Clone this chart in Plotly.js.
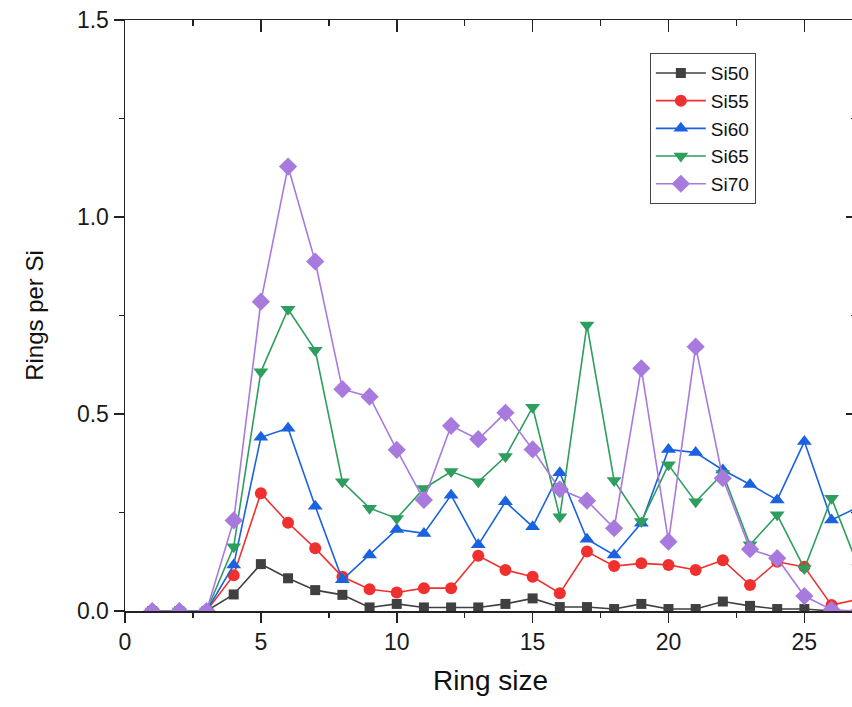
<!DOCTYPE html>
<html>
<head>
<meta charset="utf-8">
<script src="https://cdn.plot.ly/plotly-3.0.1.min.js"></script>
<style>html,body{margin:0;padding:0;overflow:hidden;background:#fff}</style>
</head>
<body>
<div id="chart" style="width:880px;height:707px"></div>
<script>
const ringSize = [1,2,3,4,5,6,7,8,9,10,11,12,13,14,15,16,17,18,19,20,21,22,23,24,25,26,27];
const si50 = [0,0,0,0.042,0.119,0.083,0.053,0.041,0.009,0.018,0.009,0.009,0.009,0.018,0.032,0.010,0.010,0.005,0.018,0.005,0.005,0.024,0.013,0.005,0.005,0.0,0.0];
const si55 = [0,0,0,0.091,0.299,0.224,0.159,0.087,0.055,0.047,0.058,0.058,0.140,0.104,0.087,0.045,0.151,0.114,0.121,0.117,0.104,0.129,0.066,0.125,0.112,0.015,0.03];
const si60 = [0,0,0,0.117,0.441,0.464,0.266,0.079,0.142,0.207,0.197,0.294,0.168,0.277,0.214,0.351,0.182,0.142,0.223,0.410,0.402,0.358,0.321,0.282,0.430,0.231,0.264];
const si65 = [0,0,0,0.163,0.607,0.766,0.662,0.328,0.261,0.235,0.311,0.354,0.328,0.392,0.517,0.239,0.726,0.331,0.227,0.371,0.277,0.349,0.168,0.244,0.108,0.286,0.11];
const si70 = [0,0,0,0.230,0.785,1.128,0.887,0.563,0.544,0.409,0.282,0.470,0.436,0.503,0.410,0.309,0.280,0.210,0.616,0.176,0.671,0.337,0.157,0.134,0.038,0.003,0.0];
const seriesNames = ['Si50','Si55','Si60','Si65','Si70'];
const seriesValues = [si50, si55, si60, si65, si70];
const colors = ['#404040','#f0302f','#1a62e0','#2e9e5e','#a87ade'];
const symbols = ['square','circle','triangle-up','triangle-down','diamond'];
const sizes = [10,12,13,13,14];
const xTickVals = [0,5,10,15,20,25];
const yTickVals = [0,0.5,1.0,1.5];

const FONT = 'Liberation Sans, Arial, sans-serif';
const traces = seriesNames.map((n,i)=>({
  x: ringSize, y: seriesValues[i], name: n, type:'scatter', mode:'lines+markers',
  line:{color:colors[i], width:1.6},
  marker:{color:colors[i], symbol:symbols[i], size:sizes[i], line:{width:0}},
  cliponaxis:true
}));
traces.push({x:[], y:[], xaxis:'x2', yaxis:'y2', showlegend:false, type:'scatter', mode:'markers', hoverinfo:'skip'});

const axisCommon = {showgrid:false, zeroline:false, showline:true, linecolor:'#222', linewidth:1.5, tickcolor:'#222', tickwidth:1.5};
const layout = {
  width:880, height:707,
  margin:{l:125, r:24, t:20, b:96},
  paper_bgcolor:'#fff', plot_bgcolor:'#fff',
  font:{family:FONT, color:'#1a1a1a'},
  showlegend:true,
  xaxis: Object.assign({}, axisCommon, {
    range:[0,26.9], tickmode:'array', tickvals:xTickVals, ticktext:xTickVals.map(String),
    ticks:'outside', ticklen:10,
    minor:{dtick:2.5, tick0:0, ticks:'outside', ticklen:5, tickwidth:1.5, tickcolor:'#222'},
    tickfont:{family:FONT, size:23, color:'#1a1a1a'},
    title:{text:'Ring size', font:{family:FONT, size:28, color:'#111'}, standoff:16}
  }),
  xaxis2: Object.assign({}, axisCommon, {
    overlaying:'x', side:'top', anchor:'y', range:[0,26.9], dtick:5, tick0:0,
    ticks:'inside', ticklen:12, showticklabels:false,
    minor:{dtick:2.5, tick0:0, ticks:'inside', ticklen:6, tickwidth:1.5, tickcolor:'#222'}
  }),
  yaxis: Object.assign({}, axisCommon, {
    range:[0,1.5], tickmode:'array', tickvals:yTickVals, ticktext:yTickVals.map(v=>v.toFixed(1)),
    ticks:'outside', ticklen:10,
    minor:{dtick:0.25, tick0:0, ticks:'outside', ticklen:5, tickwidth:1.5, tickcolor:'#222'},
    tickfont:{family:FONT, size:23, color:'#1a1a1a'},
    title:{text:'Rings per Si', font:{family:FONT, size:24, color:'#111'}, standoff:26}
  }),
  yaxis2: Object.assign({}, axisCommon, {
    overlaying:'y', side:'right', anchor:'x', range:[0,1.5], dtick:0.5, tick0:0,
    ticks:'inside', ticklen:10, showticklabels:false,
    minor:{dtick:0.25, tick0:0, ticks:'inside', ticklen:5, tickwidth:1.5, tickcolor:'#222'}
  }),
  legend:{x:0.718, y:0.944, xanchor:'left', yanchor:'top', bgcolor:'#fff', bordercolor:'#444', borderwidth:1,
    font:{family:FONT, size:19, color:'#111'}, itemwidth:50, tracegroupgap:0}
};
Plotly.newPlot('chart', traces, layout, {displayModeBar:false, staticPlot:true});
</script>
</body>
</html>
